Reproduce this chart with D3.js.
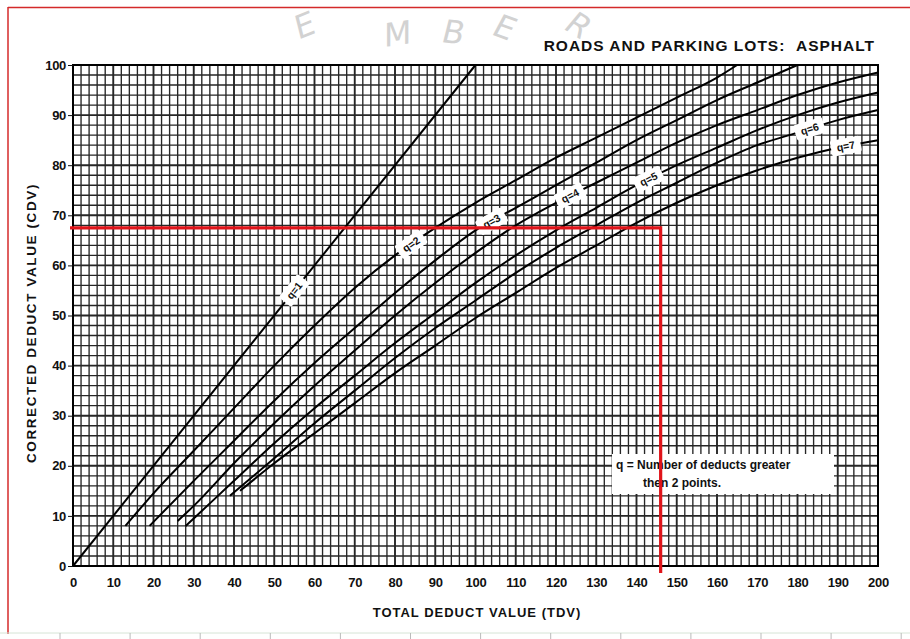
<html>
<head>
<meta charset="utf-8">
<script src="https://d3js.org/d3.v7.min.js"></script>
<style>
  body { margin: 0; background: #fff; }
  text { font-family: "Liberation Sans", Arial, sans-serif; font-weight: bold; fill: #111; }
</style>
</head>
<body>
<div class="chart"></div>
<script>
// values (TDV, CDV)
var xTicks = d3.range(0, 201, 10);
var yTicks = d3.range(0, 101, 10);
var q1 = [[0,0],[100,100]];
var q2 = [[13,8],[20,14.5],[30,23],[40,31.5],[50,40],[60,48],[70,55.5],[80,62],[90,67.5],[100,72.5],[110,77],[120,81.5],[130,85.5],[140,89.5],[150,93.5],[160,97.5],[165,100]];
var q3 = [[19,8],[30,17],[40,25],[50,33],[60,40.5],[70,47.5],[80,54.5],[90,61],[100,67],[110,71.5],[120,76],[130,80.5],[140,85],[150,89],[160,93],[170,96.5],[180,100]];
var q4 = [[26,9],[30,12],[40,20.5],[50,28.5],[60,36],[70,43],[80,50],[90,56.5],[100,62.5],[110,68],[120,72.5],[130,76.5],[140,80.5],[150,84.5],[160,88],[170,91],[180,94],[190,96.5],[200,98.5]];
var q5 = [[28,8],[30,9.5],[40,17],[50,24.5],[60,31.5],[70,38],[80,44.5],[90,50.5],[100,56.5],[110,62],[120,67],[130,71.5],[140,76],[150,80],[160,83.5],[170,87],[180,90],[190,92.5],[200,94.5]];
var q6 = [[39,14],[50,21.5],[60,28.5],[70,35],[80,41.5],[90,47.5],[100,53],[110,58.5],[120,63.5],[130,68],[140,72.5],[150,76.5],[160,80.5],[170,84],[180,86.5],[190,89],[200,91]];
var q7 = [[41.5,15],[50,20.5],[60,26.5],[70,32.5],[80,38.5],[90,44],[100,49.5],[110,54.5],[120,59.5],[130,64],[140,68.5],[150,72.5],[160,76],[170,79],[180,81.5],[190,83.5],[200,85]];
var curveNames = ["q=1","q=2","q=3","q=4","q=5","q=6","q=7"];
var labelAt = [55, 84, 104, 123.5, 143, 183, 192];
var exampleTDV = 146, exampleCDV = 67.5;

var width = 910, height = 639;
var svg = d3.select(".chart").append("svg")
  .attr("width", width).attr("height", height);

var x = d3.scaleLinear().domain([0, 200]).range([73, 878]);
var y = d3.scaleLinear().domain([0, 100]).range([566, 65]);

// page frame
svg.append("line").attr("x1", 8).attr("x2", 910).attr("y1", 7.5).attr("y2", 7.5)
  .style("stroke", "#d42a2a").style("stroke-width", 1.5);
svg.append("line").attr("x1", 8).attr("x2", 8).attr("y1", 7).attr("y2", 634)
  .style("stroke", "#d42a2a").style("stroke-width", 1.5);
svg.append("line").attr("x1", 0).attr("x2", 910).attr("y1", 633).attr("y2", 633)
  .style("stroke", "#d6e4d6").style("stroke-width", 1);
svg.selectAll(".ptick").data(d3.range(60, 910, 70.1)).enter().append("line")
  .attr("x1", function (d) { return d; }).attr("x2", function (d) { return d; })
  .attr("y1", 633).attr("y2", 639).style("stroke", "#bbb");

// watermark
var wm = svg.append("g");
[["E",298,40,-22],["M",384,47,-8],["B",440,42,6],["E",490,34,20],["R",562,28,32]].forEach(function (l) {
  wm.append("text").attr("transform", "translate(" + l[1] + "," + l[2] + ") rotate(" + l[3] + ") skewX(-8)")
    .style("font-family", "DejaVu Sans").style("font-weight", "normal").style("font-size", "32px")
    .style("fill", "#d2d2d2").text(l[0]);
});

// grid
var grid = svg.append("g");
grid.selectAll(".vx").data(d3.range(0, 201, 2)).enter().append("line")
  .attr("x1", function (d) { return x(d); }).attr("x2", function (d) { return x(d); })
  .attr("y1", y(0)).attr("y2", y(100))
  .style("stroke", "#262626").style("stroke-width", function (d) { return d % 10 === 0 ? 1.9 : 1.35; });
grid.selectAll(".hy").data(d3.range(0, 101, 2)).enter().append("line")
  .attr("x1", x(0)).attr("x2", x(200))
  .attr("y1", function (d) { return y(d); }).attr("y2", function (d) { return y(d); })
  .style("stroke", "#262626").style("stroke-width", function (d) { return d % 10 === 0 ? 1.9 : 1.35; });
svg.append("rect").attr("x", x(0)).attr("y", y(100))
  .attr("width", x(200) - x(0)).attr("height", y(0) - y(100))
  .style("fill", "none").style("stroke", "#000").style("stroke-width", 2);

// axes
var xAxis = svg.append("g").attr("transform", "translate(0," + y(0) + ")")
  .call(d3.axisBottom(x).tickValues(xTicks).tickSize(0).tickPadding(12));
var yAxis = svg.append("g").attr("transform", "translate(" + x(0) + ",0)")
  .call(d3.axisLeft(y).tickValues(yTicks).tickSize(5).tickPadding(2));
[xAxis, yAxis].forEach(function (a) {
  a.select(".domain").remove();
  a.selectAll("text").style("font-size", "13px").style("font-family", null).style("letter-spacing", "-0.3px");
  a.selectAll("line").style("stroke", "#111");
});

svg.append("text").attr("x", 477).attr("y", 617).attr("text-anchor", "middle")
  .style("font-size", "13px").style("letter-spacing", "1px").text("TOTAL DEDUCT VALUE (TDV)");
svg.append("text").attr("transform", "translate(36,323) rotate(-90)").attr("text-anchor", "middle")
  .style("font-size", "13.5px").style("letter-spacing", "1.6px").text("CORRECTED DEDUCT VALUE (CDV)");
svg.append("text").attr("x", 875).attr("y", 51).attr("text-anchor", "end")
  .style("font-size", "15.5px").style("letter-spacing", "1px")
  .text("ROADS AND PARKING LOTS:\u00a0\u00a0ASPHALT");

// curves
var curves = [q1, q2, q3, q4, q5, q6, q7];
var line = d3.line()
  .x(function (d) { return x(d[0]); })
  .y(function (d) { return y(d[1]); })
  .curve(d3.curveMonotoneX);
svg.selectAll(".q").data(curves).enter().append("path")
  .attr("d", line).style("fill", "none").style("stroke", "#000").style("stroke-width", 2);

// curve labels
function cdvAt(c, t) {
  for (var i = 1; i < c.length; i++) {
    if (t <= c[i][0]) {
      var f = (t - c[i-1][0]) / (c[i][0] - c[i-1][0]);
      return { v: c[i-1][1] + f * (c[i][1] - c[i-1][1]), a: c[i-1], b: c[i] };
    }
  }
  return { v: c[c.length-1][1], a: c[c.length-2], b: c[c.length-1] };
}
curves.forEach(function (c, i) {
  var p = cdvAt(c, labelAt[i]);
  var ang = Math.atan2(y(p.b[1]) - y(p.a[1]), x(p.b[0]) - x(p.a[0])) * 180 / Math.PI;
  var g = svg.append("g").attr("transform", "translate(" + x(labelAt[i]) + "," + y(p.v) + ") rotate(" + ang + ")");
  g.append("rect").attr("x", -15).attr("y", -8).attr("width", 30).attr("height", 16)
    .attr("rx", 2).style("fill", "#fff");
  g.append("text").attr("text-anchor", "middle").attr("dy", "0.35em")
    .style("font-size", "10.5px").text(curveNames[i]);
});

// note box
svg.append("rect").attr("x", 612).attr("y", 454).attr("width", 222).attr("height", 40).style("fill", "#fff");
svg.append("text").attr("x", 616).attr("y", 469).style("font-size", "12px").text("q = Number of deducts greater");
svg.append("text").attr("x", 643).attr("y", 487).style("font-size", "12px").text("then 2 points.");

// example reading
svg.append("path")
  .attr("d", "M" + (x(0) - 3) + "," + y(exampleCDV) + "H" + x(exampleTDV) + "V" + (y(0) + 7))
  .style("fill", "none").style("stroke", "#e0141a").style("stroke-width", 3.2);
</script>
</body>
</html>
